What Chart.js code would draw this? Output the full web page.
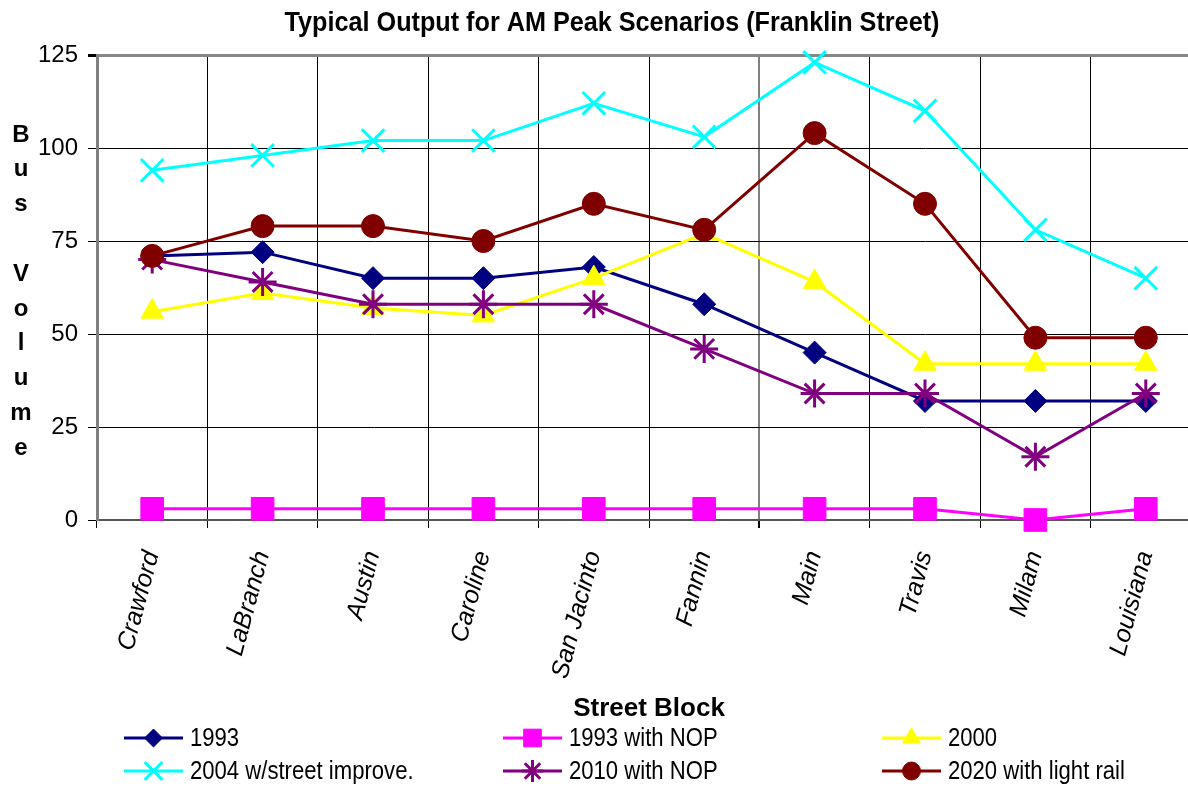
<!DOCTYPE html>
<html>
<head>
<meta charset="utf-8">
<script src="https://cdn.jsdelivr.net/npm/chart.js"></script>
<style>
  html, body { margin: 0; padding: 0; background: #fff; overflow: hidden; }
  #wrap { position: relative; width: 1224px; height: 788px; }
</style>
</head>
<body>
<div id="wrap"><canvas id="busChart"></canvas></div>
<script>
// street blocks along Franklin St.
const streets = ['Crawford', 'LaBranch', 'Austin', 'Caroline', 'San Jacinto', 'Fannin', 'Main', 'Travis', 'Milam', 'Louisiana'];
const yTicks = [0, 25, 50, 75, 100, 125];

const v1993 = [71, 72, 65, 65, 68, 58, 45, 32, 32, 32];
const v1993Nop = [3, 3, 3, 3, 3, 3, 3, 3, 0, 3];
const v2000 = [56, 61, 57, 55, 65, 77, 64, 42, 42, 42];
const v2004 = [94, 98, 102, 102, 112, 103, 123, 110, 78, 65];
const v2010Nop = [70, 64, 58, 58, 58, 46, 34, 34, 17, 34];
const v2020Rail = [71, 79, 79, 75, 85, 78, 104, 85, 49, 49];

const seriesNames = ['1993', '1993 with NOP', '2000', '2004 w/street improve.', '2010 with NOP', '2020 with light rail'];

const FONT = '"Liberation Sans", Arial, sans-serif';

function series(i, data, color, style, radius, bw) {
    return {
        label: seriesNames[i],
        data: data,
        borderColor: color,
        backgroundColor: color,
        borderWidth: 3,
        pointStyle: style,
        pointRadius: radius,
        pointHoverRadius: radius,
        pointBackgroundColor: color,
        pointBorderColor: color,
        pointBorderWidth: bw,
        tension: 0,
        clip: false,
        order: 6 - i
    };
}

// title, y label and legend drawn by hand (condensed text, 3 column legend)
const extras = {
    id: 'extras',
    afterDraw(chart) {
        const ctx = chart.ctx;
        ctx.save();
        ctx.fillStyle = '#000';
        ctx.textAlign = 'center';
        ctx.textBaseline = 'middle';

        // title
        ctx.save();
        ctx.font = 'bold 28px ' + FONT;
        ctx.translate(612, 23);
        ctx.scale(0.9, 1);
        ctx.fillText('Typical Output for AM Peak Scenarios (Franklin Street)', 0, 0);
        ctx.restore();

        // stacked y axis title
        ctx.font = 'bold 24px ' + FONT;
        'Bus Volume'.split('').forEach((ch, i) => {
            if (ch !== ' ') ctx.fillText(ch, 21, 135 + i * 34.8);
        });

        // legend
        chart.data.datasets.forEach((ds, i) => {
            const x0 = 124 + (i % 3) * 379;
            const y = 738 + Math.floor(i / 3) * 33;
            ctx.save();
            ctx.strokeStyle = ds.borderColor;
            ctx.lineWidth = ds.borderWidth;
            ctx.beginPath();
            ctx.moveTo(x0, y);
            ctx.lineTo(x0 + 59, y);
            ctx.stroke();
            ctx.fillStyle = ds.pointBackgroundColor;
            ctx.strokeStyle = ds.pointBorderColor;
            ctx.lineWidth = ds.pointBorderWidth;
            Chart.helpers.drawPoint(ctx, {
                pointStyle: ds.pointStyle,
                radius: ds.pointRadius * 0.78,
                borderWidth: ds.pointBorderWidth,
                rotation: 0
            }, x0 + 29.5, y);
            ctx.fillStyle = '#000';
            ctx.font = '26px ' + FONT;
            ctx.textAlign = 'left';
            ctx.translate(x0 + 66, y + 1);
            ctx.scale(0.85, 1);
            ctx.fillText(seriesNames[i], 0, 0);
            ctx.restore();
        });
        ctx.restore();
    }
};

new Chart(document.getElementById('busChart'), {
    type: 'line',
    data: {
        labels: streets,
        datasets: [
            series(0, v1993, '#000080', 'rectRot', 11.5, 1),
            series(1, v1993Nop, '#FF00FF', 'rect', 16, 1),
            series(2, v2000, '#FFFF00', 'triangle', 13, 1),
            series(3, v2004, '#00FFFF', 'crossRot', 16, 3),
            series(4, v2010Nop, '#800080', 'star', 14, 3),
            series(5, v2020Rail, '#800000', 'circle', 11.5, 1)
        ]
    },
    options: {
        responsive: true,
        maintainAspectRatio: false,
        animation: false,
        layout: { padding: { top: 55, left: 0, right: 23, bottom: 64 } },
        plugins: {
            legend: { display: false },
            title: { display: false },
            tooltip: { enabled: false }
        },
        scales: {
            x: {
                offset: true,
                afterFit: s => { s.height = 204; },
                grid: {
                    offset: true,
                    color: c => c.index === 6 ? '#808080' : '#000',
                    lineWidth: c => c.index === 6 ? 2 : 1,
                    tickLength: 8,
                    tickColor: '#000'
                },
                border: { color: '#555', width: 2 },
                ticks: {
                    autoSkip: false,
                    maxRotation: 75,
                    minRotation: 75,
                    padding: 20,
                    color: '#000',
                    font: { family: FONT, size: 25, style: 'italic' }
                },
                title: {
                    display: true,
                    text: 'Street Block',
                    color: '#000',
                    font: { family: FONT, size: 26, weight: 'bold' },
                    padding: { top: 0, bottom: 0 }
                }
            },
            y: {
                min: 0,
                max: 125,
                afterFit: s => { s.width = 97; },
                afterBuildTicks: s => { s.ticks = yTicks.map(v => ({ value: v })); },
                grid: {
                    color: c => (c.tick && c.tick.value === 125) ? '#888' : '#000',
                    lineWidth: c => (c.tick && c.tick.value === 125) ? 3 : 1,
                    tickLength: 9,
                    tickColor: '#000'
                },
                border: { color: '#808080', width: 3 },
                ticks: {
                    padding: 10,
                    color: '#000',
                    font: { family: FONT, size: 24 }
                }
            }
        }
    },
    plugins: [extras]
});
</script>
</body>
</html>
